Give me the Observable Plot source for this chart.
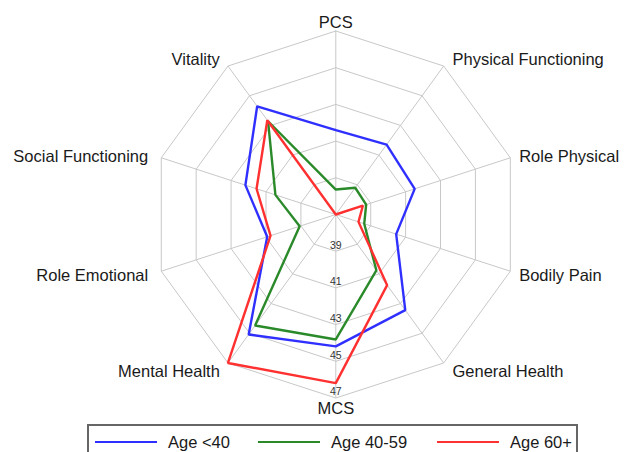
<!DOCTYPE html>
<html>
<head>
<meta charset="utf-8">
<script src="https://cdn.jsdelivr.net/npm/d3@7"></script>
<script src="https://cdn.jsdelivr.net/npm/@observablehq/plot@0.6"></script>
<style>
  html, body { margin: 0; padding: 0; background: #fff; }
  body { width: 624px; height: 452px; overflow: hidden; position: relative; font-family: "Liberation Sans", Arial, sans-serif; }
  #chart svg { display: block; }
  #legend { position: absolute; left: 87px; top: 424px; width: 491px; height: 34px; border: 2px solid #666; box-sizing: border-box; }
  .sw { position: absolute; width: 62px; height: 0; border-top: 2px solid; }
  .lab { position: absolute; font-size: 16.5px; line-height: 20px; color: #1a1a1a; white-space: nowrap; }
</style>
</head>
<body>
<div id="chart"></div>
<div id="legend"></div>
<script>
// ---- data ----
const dimensions = ["PCS", "Physical Functioning", "Role Physical", "Bodily Pain", "General Health",
                    "MCS", "Mental Health", "Role Emotional", "Social Functioning", "Vitality"];
const seriesNames = ["Age <40", "Age 40-59", "Age 60+"];
const ageUnder40 = [41.6, 41.71, 41.52, 40.46, 43.44, 44.19, 45.08, 40.93, 42.18, 44.29];
const age40to59  = [38.36, 38.8, 38.74, 38.63, 40.76, 43.81, 44.48, 39.07, 40.46, 43.28];
const age60plus  = [37.0, 37.0, 38.55, 38.3, 41.76, 46.19, 47.0, 40.74, 41.54, 43.35];
const ringLevels = [39, 41, 43, 45, 47];
const seriesColors = ["#2f2fff", "#2a8a2a", "#ff3030"];

// ---- geometry helpers ----
const rMin = 37, rMax = 47;
const n = dimensions.length;
const ang = i => i * 2 * Math.PI / n;
const px = (v, i) => (v - rMin) * Math.sin(ang(i));
const py = (v, i) => (v - rMin) * Math.cos(ang(i));

const seriesValues = [ageUnder40, age40to59, age60plus];
const seriesRows = [];
seriesValues.forEach((vals, s) => {
  for (let k = 0; k <= n; k++) {
    const i = k % n;
    seriesRows.push({series: seriesNames[s], i, value: vals[i]});
  }
});
const ringRows = [];
ringLevels.forEach(level => {
  for (let k = 0; k <= n; k++) ringRows.push({level, i: k % n});
});
const dimRows = dimensions.map((name, i) => ({name, i}));
const R = rMax - rMin;
const rightLabels = dimRows.filter(d => Math.sin(ang(d.i)) > 0.1);
const leftLabels = dimRows.filter(d => Math.sin(ang(d.i)) < -0.1);
const midLabels = dimRows.filter(d => Math.abs(Math.sin(ang(d.i))) <= 0.1);

const cx = 335.3, cy = 214, rad = 183.5;
const textColor = "#1a1a1a";
const labelY = d => (R + 0.5) * Math.cos(ang(d.i)) - 0.07;

const chart = Plot.plot({
  width: 624,
  height: 424,
  margin: 0,
  style: {fontFamily: "'Liberation Sans', Arial, sans-serif", background: "#fff"},
  x: {domain: [-R, R], range: [cx - rad, cx + rad], axis: null},
  y: {domain: [-R, R], range: [cy + rad, cy - rad], axis: null},
  color: {domain: seriesNames, range: seriesColors},
  marks: [
    Plot.link(dimRows, {x1: () => 0, y1: () => 0, x2: d => px(rMax, d.i), y2: d => py(rMax, d.i), stroke: "#c8c8c8", strokeWidth: 1}),
    Plot.line(ringRows, {x: d => px(d.level, d.i), y: d => py(d.level, d.i), z: "level", stroke: "#c8c8c8", strokeWidth: 1, curve: "linear"}),
    Plot.text(ringLevels, {x: () => 0, y: d => -(d - rMin), text: d => String(d), dy: -6, fontSize: 10.5, fill: "#333"}),
    Plot.line(seriesRows, {x: d => px(d.value, d.i), y: d => py(d.value, d.i), z: "series", stroke: "series", strokeWidth: 2.4, strokeLinejoin: "miter", curve: "linear"}),
    Plot.text(rightLabels, {x: d => R * Math.sin(ang(d.i)) + 0.48, y: labelY, text: "name", textAnchor: "start", fontSize: 16.5, fill: textColor}),
    Plot.text(leftLabels, {x: d => R * Math.sin(ang(d.i)) - 0.75 * Math.abs(Math.sin(ang(d.i))), y: labelY, text: "name", textAnchor: "end", fontSize: 16.5, fill: textColor}),
    Plot.text(midLabels, {x: () => 0, y: labelY, text: "name", textAnchor: "middle", fontSize: 16.5, fill: textColor})
  ]
});
document.getElementById("chart").appendChild(chart);

// ---- legend ----
const legend = document.getElementById("legend");
const swatchLeft = [6, 169, 348];
seriesNames.forEach((name, s) => {
  const sw = document.createElement("div");
  sw.className = "sw";
  sw.style.left = swatchLeft[s] + "px";
  sw.style.top = "15px";
  sw.style.borderTopColor = seriesColors[s];
  legend.appendChild(sw);
  const lab = document.createElement("div");
  lab.className = "lab";
  lab.style.left = (swatchLeft[s] + 73) + "px";
  lab.style.top = "6px";
  lab.textContent = name;
  legend.appendChild(lab);
});
</script>
</body>
</html>
